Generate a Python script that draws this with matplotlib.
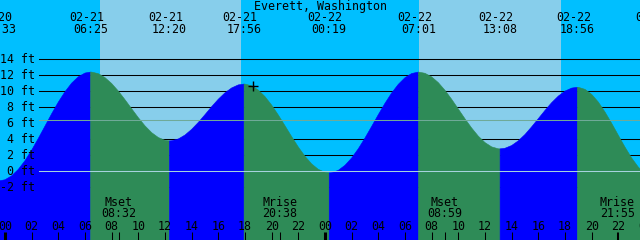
import matplotlib
matplotlib.use('Agg')
import matplotlib.pyplot as plt
import matplotlib.transforms as mtrans
import numpy as np
from datetime import datetime

# high / low tides (feet)
ext_stamp = ['02-20 23:33', '02-21 06:25', '02-21 12:20', '02-21 17:56', '02-22 00:19',
             '02-22 07:01', '02-22 13:08', '02-22 18:56', '02-23 00:52']
ext_level = [-1.2, 12.4, 3.8, 10.9, -0.2, 12.4, 2.8, 10.5, -0.9]

# readings of the curve on the hour, hours after 02-21 00:00
hour_t = list(range(-1, 49))
hour_level = [-1.0, -1.06, 0.24, 2.64, 5.65, 8.65, 11.02, 12.28, 12.20, 10.97,
              8.95, 6.70, 4.83, 3.87, 4.04, 5.24, 7.08, 9.01, 10.42, 10.90,
              10.15, 8.27, 5.69, 3.03, 0.92, -0.13, 0.12, 1.66, 4.16, 7.08,
              9.79, 11.70, 12.40, 11.80, 10.12, 7.78, 5.41, 3.59, 2.81, 3.22,
              4.60, 6.58, 8.58, 10.02, 10.50, 9.61, 7.41, 4.50, 1.66, -0.31]
# and on the half hour
half_t = [h + 0.5 for h in range(-1, 49)]
half_level = [-1.19, -0.57, 1.33, 4.11, 7.19, 9.94, 11.81, 12.40, 11.71, 10.03,
              7.82, 5.68, 4.22, 3.82, 4.53, 6.11, 8.08, 9.81, 10.80, 10.68,
              9.33, 7.03, 4.33, 1.87, 0.24, -0.18, 0.75, 2.82, 5.61, 8.50,
              10.87, 12.22, 12.25, 11.08, 9.00, 6.56, 4.39, 3.05, 2.88, 3.81,
              5.56, 7.61, 9.40, 10.40, 10.24, 8.65, 6.00, 3.02, 0.52, -0.79]

sunrise = ['02-21 07:07', '02-22 07:05']
sunset = ['02-21 17:42', '02-22 17:44']

moon_kind = ['Mset', 'Mrise', 'Mset', 'Mrise']
moon_stamp = ['02-21 08:32', '02-21 20:38', '02-22 08:59', '02-22 21:55']

depth_lines = [14, 12, 10, 8, 4, 2, -2]
depth_labels = [14, 12, 10, 8, 6, 4, 2, 0, -2]
msl = 6.4
mark_stamp, mark_level = '02-21 18:37', 10.7

base = datetime(2024, 2, 21)
def hrs(s):
    return (datetime.strptime('2024-' + s, '%Y-%m-%d %H:%M') - base).total_seconds() / 3600

night, day = '#00BFFF', '#87CEEB'
rise_c, fall_c = '#0000FF', '#2E8B57'
font = dict(family='DejaVu Sans Mono', fontsize=8.4, color='black')

fig = plt.figure(figsize=(6.4, 2.4), dpi=100)
fig.patch.set_facecolor(night)
ax = fig.add_axes([0, 0, 1, 1])
ax.axis('off')
ax.set_xlim(-0.375, 47.625)
ax.set_ylim(-8.59, 21.41)

for a, b in zip(sunrise, sunset):
    ax.axvspan(hrs(a), hrs(b), color=day, lw=0, zorder=0)

# depth lines (behind the water)
for d in depth_lines:
    ax.axhline(d, xmin=39 / 640, color='black', lw=0.75, zorder=1)

# water, blue when rising and green when falling
ext_h = [hrs(s) for s in ext_stamp]
t = np.array(hour_t + half_t + ext_h, dtype=float)
lv = np.array(hour_level + half_level + ext_level, dtype=float)
o = np.argsort(t)
t, lv = t[o], lv[o]
bounds = [t.min()] + ext_h
for i in range(len(bounds) - 1):
    a, b = bounds[i], bounds[i + 1]
    m = (t >= a) & (t <= b)
    rising = np.interp(b, t, lv) > np.interp(a, t, lv)
    c = rise_c if rising else fall_c
    ax.fill_between(t[m], lv[m], -20, color=c, ec=c, lw=0.4, zorder=2)

# datum and mean sea level
ax.axhline(0, xmin=39 / 640, color='#A6D3DE', lw=0.75, zorder=3)
ax.axhline(msl, xmin=39 / 640, color='#6FAA98', lw=0.75, zorder=3)

# y labels
yt = ax.get_yaxis_transform()
for d in depth_labels:
    ax.text(35 / 640, d, f'{d} ft', transform=yt, ha='right', va='center', zorder=5, **font)

# top: station and tide event labels
xt = ax.get_xaxis_transform()
xt_date = mtrans.offset_copy(xt, fig=fig, x=-4, y=0, units='dots')
ax.text(0.5, 1 - 6.5 / 240, 'Everett, Washington', transform=ax.transAxes,
        ha='center', va='center', zorder=5, **font)
for s, h in zip(ext_stamp, ext_h):
    dd, tt = s.split()
    ax.text(h, 1 - 17.5 / 240, dd, transform=xt_date, ha='center', va='center', zorder=5, **font)
    ax.text(h, 1 - 29.5 / 240, tt, transform=xt, ha='center', va='center', zorder=5, **font)

# bottom: hour ticks and labels
for h in range(0, 49, 2):
    ax.plot([h, h], [0, 8 / 240], transform=xt, color='black',
            lw=2.2 if h % 24 == 0 else 0.75, solid_capstyle='butt', zorder=5)
    ax.text(h, 14 / 240, f'{h % 24:02d}', transform=xt, ha='center', va='center', zorder=5, **font)

# moon events
for k, s in zip(moon_kind, moon_stamp):
    h = hrs(s)
    ax.plot([h, h], [0, 8 / 240], transform=xt, color='black', lw=0.75,
            solid_capstyle='butt', zorder=5)
    ax.text(h, 1 - 202 / 240, k, transform=xt, ha='center', va='center', zorder=5, **font)
    ax.text(h, 1 - 213.5 / 240, s.split()[1], transform=xt, ha='center', va='center', zorder=5, **font)

ax.plot([hrs(mark_stamp)], [mark_level], marker='+', ms=7.5, mew=1.0, color='black', zorder=6)

fig.savefig('out.png', dpi=100)
